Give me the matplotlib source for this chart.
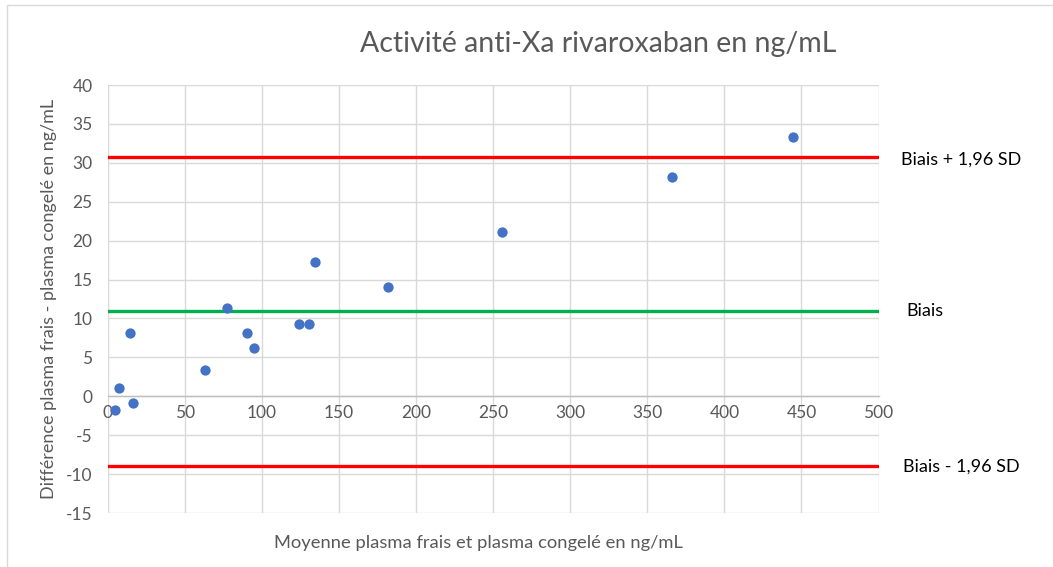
import matplotlib
matplotlib.use("Agg")
import matplotlib.pyplot as plt
from matplotlib.patches import Rectangle

# moyenne (frais + congelé) / 2 et différence frais - congelé
moyenne = [4.7, 7.6, 14.7, 16.2, 63.4, 77.5, 90.2, 94.6, 124.4, 130.7, 134.6, 181.6, 256, 365.8, 444.4]
difference = [-1.7, 1.1, 8.15, -0.85, 3.35, 11.3, 8.15, 6.2, 9.25, 9.25, 17.2, 14.1, 21.1, 28.2, 33.3]

biais = 10.9
lim_sup = 30.8
lim_inf = -9.0

x_ticks = list(range(0, 501, 50))
y_ticks = list(range(-15, 41, 5))

plt.rcParams['font.family'] = ['Lato', 'DejaVu Sans']
plt.rcParams['axes.unicode_minus'] = False

fig = plt.figure(figsize=(10.53, 5.67), dpi=100)
ax = fig.add_axes([0.1023, 0.0952, 0.7320, 0.7548])

gris = '#d9d9d9'
texte = '#595959'

# lignes de Bland-Altman
ax.plot([0, 500], [lim_sup, lim_sup], color='#ff0000', lw=2.4, zorder=3)
ax.plot([0, 500], [biais, biais], color='#00b050', lw=2.4, zorder=3)
ax.plot([0, 500], [lim_inf, lim_inf], color='#ff0000', lw=2.4, zorder=3)

ax.scatter(moyenne, difference, s=55, color='#4472c4', zorder=4, linewidths=0)

ax.set_xlim(0, 500)
ax.set_ylim(-15, 40)
ax.set_xticks(x_ticks)
ax.set_yticks(y_ticks)
ax.grid(True, color=gris, lw=1.0)
ax.set_axisbelow(True)

for s in ['top', 'right', 'left']:
    ax.spines[s].set_visible(False)
ax.spines['bottom'].set_position(('data', 0))
ax.spines['bottom'].set_color('#bfbfbf')
ax.spines['bottom'].set_linewidth(1.0)

ax.tick_params(axis='both', length=0, labelsize=12.5, labelcolor=texte)
ax.tick_params(axis='y', pad=11)
ax.tick_params(axis='x', pad=6)

ax.set_ylabel('Différence plasma frais - plasma congelé en ng/mL', fontsize=13, color=texte, labelpad=6)

fig.text(0.454, 0.042, 'Moyenne plasma frais et plasma congelé en ng/mL', fontsize=13.2,
         color=texte, ha='center', va='center')
fig.text(0.568, 0.922, 'Activité anti-Xa rivaroxaban en ng/mL', fontsize=20.5,
         color=texte, ha='center', va='center')

# étiquettes des lignes
ax.annotate('Biais + 1,96 SD', xy=(500, lim_sup), xytext=(22, -3), textcoords='offset pixels',
            fontsize=13, color='black', va='center', annotation_clip=False)
ax.annotate('Biais', xy=(500, biais), xytext=(28, 0), textcoords='offset pixels',
            fontsize=13, color='black', va='center', annotation_clip=False)
ax.annotate('Biais - 1,96 SD', xy=(500, lim_inf), xytext=(24, 0), textcoords='offset pixels',
            fontsize=13, color='black', va='center', annotation_clip=False)

# cadre du graphique
fig.patches.append(Rectangle((7 / 1053, -0.05), 1.2, 1.05 - 5 / 567, transform=fig.transFigure,
                             fill=False, edgecolor=gris, lw=1.0))

fig.savefig('out.png', dpi=100)
